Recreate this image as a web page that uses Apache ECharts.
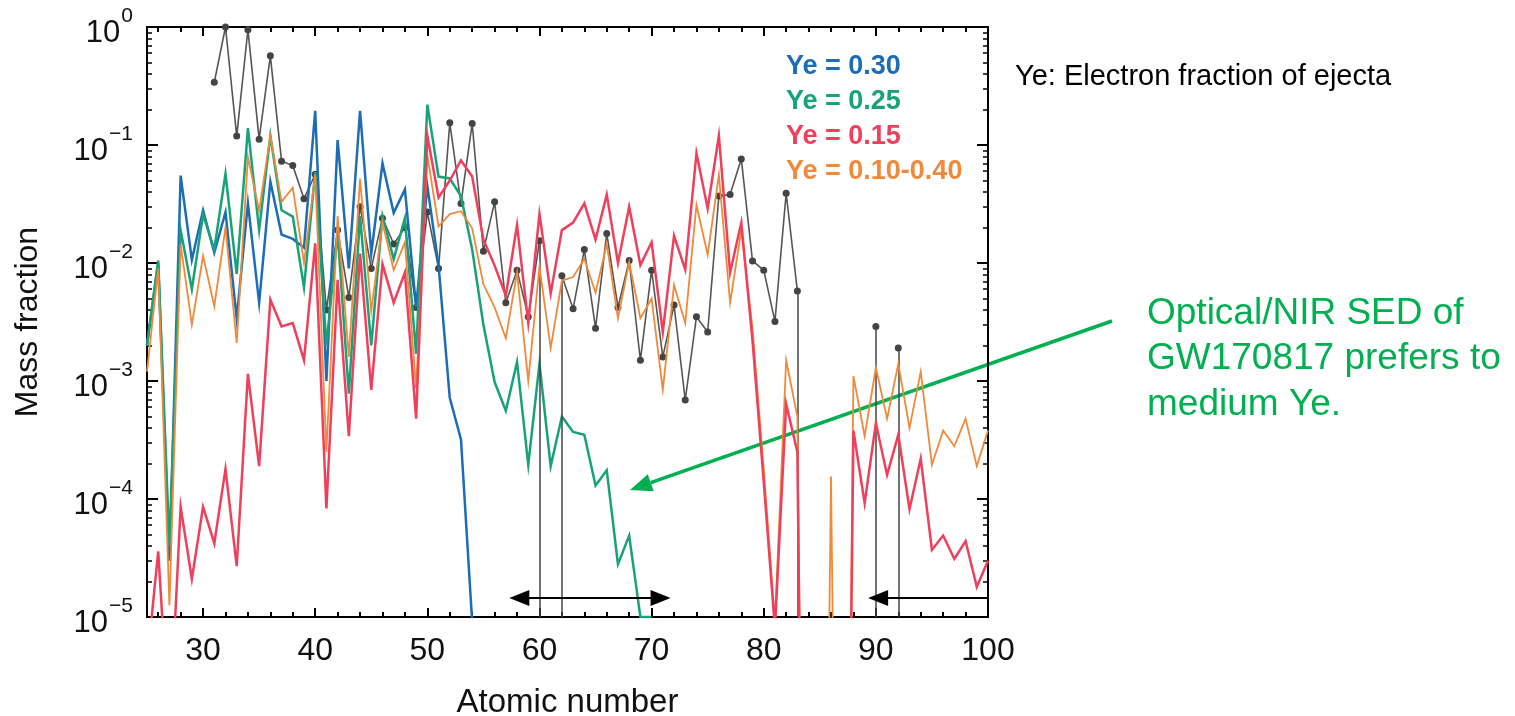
<!DOCTYPE html>
<html><head><meta charset="utf-8">
<script src="https://cdn.jsdelivr.net/npm/echarts@6/dist/echarts.min.js"></script>
<style>html,body{margin:0;padding:0;background:#fff}#c{width:1515px;height:716px}</style>
</head><body><div id="c"></div>
<script>
// ---------------- data ----------------
const atomicNumbers = [25,26,27,28,29,30,31,32,33,34,35,36,37,38,39,40,41,42,43,44,45,46,47,48,49,50,
  51,52,53,54,55,56,57,58,59,60,61,62,63,64,65,66,67,68,69,70,71,72,73,74,75,76,77,78,79,80,
  81,82,83,84,85,86,87,88,89,90,91,92,93,94,95,96,97,98,99,100];

const ye030 = [
  2e-3, 1.0e-2, 3e-5, 0.055, 0.0106, 0.028, 0.0122, 0.027, 0.0034, 0.032,
  0.0046, 0.049, 0.0174, 0.016, 0.0135, 0.195, 0.001, 0.11, 0.009, 0.195,
  0.012, 0.07, 0.0266, 0.042, 0.0042, 0.045, 0.0096, 7.2e-4, 3.2e-4, 9e-6,
  null,null,null,null,null,null,null,null,null,null,
  null,null,null,null,null,null,null,null,null,null,
  null,null,null,null,null,null,null,null,null,null,
  null,null,null,null,null,null,null,null,null,null,
  null,null,null,null,null,null];

const ye025 = [
  2e-3, 0.0105, 4e-5, 0.019, 0.006, 0.0257, 0.013, 0.057, 0.0081, 0.139,
  0.019, 0.12, 0.028, 0.0247, 0.0062, 0.059, 0.002, 0.018, 7.8e-4, 0.025,
  0.002, 0.025, 0.0108, 0.024, 0.0017, 0.22, 0.054, 0.052, 0.037, 0.013,
  0.003, 9.8e-4, 5.6e-4, 1.45e-3, 1.95e-4, 1.4e-3, 1.9e-4, 5e-4, 3.7e-4, 3.5e-4,
  1.3e-4, 1.75e-4, 2.8e-5, 4.9e-5, 1e-5, 1e-5, null, null, null, null,
  null,null,null,null,null,null,null,null,null,null,
  null,null,null,null,null,null,null,null,null,null,
  null,null,null,null,null,null];

const ye015 = [
  4e-6, 3.6e-5, 1e-6, 8.6e-5, 2.1e-5, 8.6e-5, 4.2e-5, 1.8e-4, 2.7e-5, 1.15e-3,
  1.9e-4, 4.9e-3, 2.9e-3, 3.1e-3, 1.5e-3, 0.0147, 8.3e-5, 0.0072, 3.4e-4, 0.012,
  8.4e-4, 0.0098, 0.0046, 0.0083, 4.8e-4, 0.12, 0.036, 0.05, 0.074, 0.054,
  0.0158, 0.0095, 0.0053, 0.021, 0.0031, 0.026, 0.0055, 0.019, 0.022, 0.032,
  0.0158, 0.038, 0.01, 0.03, 0.0096, 0.015, 0.0026, 0.017, 0.0088, 0.085,
  0.029, 0.12, 0.0083, 0.022, 0.0022, 1.4e-4, 8e-6, 6.4e-4, 2.5e-4, 1e-12,
  1e-12, 1e-12, 1e-12, 3.8e-4, 9.2e-5, 4.4e-4, 1.6e-4, 3.5e-4, 8.2e-5, 2.2e-4,
  3.7e-5, 4.9e-5, 3.1e-5, 4.4e-5, 1.8e-5, 3e-5];

const ye010to040 = [
  1.2e-3, 0.009, 1.26e-5, 0.0144, 0.003, 0.0115, 0.0043, 0.02, 0.0021, 0.079,
  0.0277, 0.12, 0.033, 0.0435, 0.01, 0.056, 2.5e-4, 0.025, 0.0016, 0.052,
  0.0039, 0.022, 0.0087, 0.015, 8.7e-4, 0.082, 0.0204, 0.026, 0.0275, 0.0197,
  0.0066, 0.0042, 0.0023, 0.0083, 0.001, 0.0093, 0.0019, 0.0071, 0.0076, 0.0108,
  0.0056, 0.0145, 0.0034, 0.0102, 0.0034, 0.005, 8.4e-4, 0.0065, 0.0031, 0.031,
  0.0117, 0.056, 0.0046, 0.019, 0.0028, 1.8e-4, 9e-6, 1.5e-3, 5e-4, 1e-12,
  1e-12, 1.55e-4, 1e-12, 1.1e-3, 3.4e-4, 1.3e-3, 4.8e-4, 1.4e-3, 4e-4, 1.2e-3,
  1.95e-4, 3.8e-4, 2.8e-4, 4.8e-4, 1.9e-4, 3.8e-4];

const solarR = [
  null, null, null, null, null, null, 0.34, 1.0, 0.119, 0.95,
  0.112, 0.57, 0.073, 0.067, 0.035, 0.0565, 0.004, 0.019, 0.0051, 0.03,
  0.009, 0.024, 0.0145, 0.02, 0.0042, 0.027, 0.009, 0.154, 0.032, 0.152,
  0.0126, 0.033, 0.0046, 0.0087, 0.0035, 0.0154, null, 0.0078, 0.0041, 0.013,
  0.0028, 0.0178, 0.0042, 0.0105, 0.0015, 0.0087, 0.0016, 0.0044, 6.9e-4, 0.0035,
  0.0026, 0.037, 0.038, 0.076, 0.0104, 0.0087, 0.0032, 0.039, 0.0058, null,
  null, null, null, null, null, 0.0029, null, 0.0019, null, null,
  null, null, null, null, null, null];

const dropLineZ = [60, 62, 83, 90, 92];           // solar points with gaps next to them
const rangeArrows = [[57.3, 71.7], [100, 89.3]];  // horizontal range arrows: Z of tail/tip ends
const arrowLevel = 1.45e-5;

const xTickLabels = [30, 40, 50, 60, 70, 80, 90, 100];
const yTickLabels = [1e-5, 1e-4, 1e-3, 1e-2, 1e-1, 1];

// ---------------- style ----------------
const FONT = '"Liberation Sans", Arial, Helvetica, sans-serif';
const BLUE = '#1d6cb6', GREEN = '#18a27a', RED = '#ef3f5b', ORANGE = '#f0893a', GRAY = '#555555';
const X_MIN = 25, X_MAX = 100, Y_MIN = 1e-5, Y_MAX = 1;
const HEAD_HALF_Z = 0.9;   // half arrow-head length expressed in Z units

const xMinor = [];
for (let z = 26; z < 100; z += 2) if (z % 10 !== 0) xMinor.push(z);
const yMinor = [];
for (let d = -5; d < 0; d++) for (let m = 2; m <= 9; m++) yMinor.push(+(m * Math.pow(10, d)).toPrecision(3));

function pairs(vals) { return atomicNumbers.map((z, i) => [z, vals[i] === null ? '-' : vals[i]]); }

function xAx(pos, ticks, len, withLabels) {
  const a = {
    type: 'value', position: pos, min: X_MIN, max: X_MAX,
    axisLine: { show: true, onZero: false, lineStyle: { color: '#000', width: 2 } },
    axisTick: { show: true, inside: true, length: len, customValues: ticks, lineStyle: { color: '#000', width: 2 } },
    axisLabel: { show: false },
    splitLine: { show: false }
  };
  if (withLabels) {
    a.axisLabel = { show: true, customValues: xTickLabels, fontSize: 32, color: '#111', fontFamily: FONT, margin: 18 };
    a.name = 'Atomic number';
    a.nameLocation = 'middle';
    a.nameGap = 69;
    a.nameTextStyle = { fontSize: 33, color: '#111', fontFamily: FONT };
  }
  return a;
}
function yAx(pos, ticks, len, withLabels) {
  const a = {
    type: 'log', logBase: 10, position: pos, min: Y_MIN, max: Y_MAX,
    axisLine: { show: true, onZero: false, lineStyle: { color: '#000', width: 2 } },
    axisTick: { show: true, inside: true, length: len, customValues: ticks, lineStyle: { color: '#000', width: len > 6 ? 2 : 1.5 } },
    axisLabel: { show: false },
    splitLine: { show: false }, minorTick: { show: false }
  };
  if (withLabels) {
    a.axisLabel = {
      show: true, customValues: yTickLabels, margin: 14, fontFamily: FONT, padding: [12, 0, 0, 0],
      formatter: v => {
        const e = Math.round(Math.log10(v));
        return '{b|10}{s|' + (e < 0 ? '\u2212' + (-e) : e) + '}';
      },
      rich: {
        b: { fontSize: 31, color: '#111', fontFamily: FONT, lineHeight: 31, verticalAlign: 'bottom' },
        s: { fontSize: 21, color: '#111', fontFamily: FONT, lineHeight: 21, verticalAlign: 'bottom', padding: [0, 0, 22, 1] }
      }
    };
    a.name = 'Mass fraction';
    a.nameLocation = 'middle';
    a.nameGap = 103;
    a.nameRotate = 90;
    a.nameTextStyle = { fontSize: 32, color: '#111', fontFamily: FONT };
  }
  return a;
}

function lineSeries(name, vals, color, width, z) {
  return {
    name, type: 'line', data: pairs(vals), xAxisIndex: 0, yAxisIndex: 0,
    showSymbol: false, symbol: 'none', connectNulls: false, clip: true, z,
    lineStyle: { color, width, join: 'miter' }, itemStyle: { color },
    emphasis: { disabled: true }
  };
}

// mark lines built from the data arrays
const markData = [];
dropLineZ.forEach(z => {
  const v = solarR[atomicNumbers.indexOf(z)];
  markData.push([{ coord: [z, v], symbol: 'none' }, { coord: [z, Y_MIN], symbol: 'none' }]);
});
{
  const [a0, a1] = rangeArrows[0];
  const s = Math.sign(a1 - a0);
  markData.push([
    { coord: [a0 + s * HEAD_HALF_Z, arrowLevel], symbol: 'triangle', lineStyle: { color: '#000', width: 2 } },
    { coord: [a1 - s * HEAD_HALF_Z, arrowLevel], symbol: 'triangle' }]);
  const [b0, b1] = rangeArrows[1];
  const t = Math.sign(b1 - b0);
  markData.push([
    { coord: [b0, arrowLevel], symbol: 'none', lineStyle: { color: '#000', width: 2 } },
    { coord: [b1 - t * HEAD_HALF_Z, arrowLevel], symbol: 'triangle' }]);
}

const solarSeries = {
  name: 'Solar r-process', type: 'line', data: pairs(solarR), xAxisIndex: 0, yAxisIndex: 0,
  symbol: 'circle', symbolSize: 7, showAllSymbol: true, connectNulls: false, clip: true, z: 2,
  lineStyle: { color: GRAY, width: 1.6 }, itemStyle: { color: '#444' },
  emphasis: { disabled: true },
  markLine: {
    silent: true, animation: false, symbolSize: [16, 20],
    label: { show: false },
    lineStyle: { color: '#444', width: 1.5, type: 'solid' },
    itemStyle: { color: '#000' },
    emphasis: { disabled: true },
    data: markData
  }
};

// green annotation arrow (pixel layout)
const aTail = [1112, 321], aTip = [630, 490];
const dx = aTip[0] - aTail[0], dy = aTip[1] - aTail[1], L = Math.hypot(dx, dy);
const ux = dx / L, uy = dy / L, hl = 22, hw = 9;
const bx = aTip[0] - ux * hl, by = aTip[1] - uy * hl;

const option = {
  animation: false,
  backgroundColor: '#fff',
  grid: { left: 147, top: 27, width: 841, height: 590, containLabel: false, outerBoundsMode: 'none' },
  xAxis: [xAx('bottom', xTickLabels, 9, true), xAx('bottom', xMinor, 5, false),
          xAx('top', xTickLabels, 9, false), xAx('top', xMinor, 5, false)],
  yAxis: [yAx('left', yTickLabels, 11, true), yAx('left', yMinor, 5, false),
          yAx('right', yTickLabels, 11, false), yAx('right', yMinor, 5, false)],
  legend: {
    orient: 'vertical', left: 776, top: 44, itemWidth: 0, itemHeight: 0, itemGap: 0,
    selectedMode: false, icon: 'rect',
    textStyle: { fontSize: 27, fontWeight: 'bold', fontFamily: FONT, lineHeight: 35 },
    data: [
      { name: 'Ye = 0.30', textStyle: { color: BLUE } },
      { name: 'Ye = 0.25', textStyle: { color: GREEN } },
      { name: 'Ye = 0.15', textStyle: { color: RED } },
      { name: 'Ye = 0.10-0.40', textStyle: { color: ORANGE } }
    ]
  },
  series: [
    solarSeries,
    lineSeries('Ye = 0.30', ye030, BLUE, 2.5, 3),
    lineSeries('Ye = 0.25', ye025, GREEN, 2.5, 4),
    lineSeries('Ye = 0.10-0.40', ye010to040, ORANGE, 1.8, 5),
    lineSeries('Ye = 0.15', ye015, RED, 2.5, 6)
  ],
  graphic: [
    { type: 'text', left: 1015, top: 62, style: { text: 'Ye: Electron fraction of ejecta', font: '29px ' + FONT, fill: '#000' } },
    { type: 'text', left: 1147, top: 291, style: { text: 'Optical/NIR SED of\nGW170817 prefers to\nmedium Ye.', font: '37px ' + FONT, lineHeight: 45.5, fill: '#00b050' } },
    { type: 'line', shape: { x1: aTail[0], y1: aTail[1], x2: bx, y2: by }, style: { stroke: '#00b050', lineWidth: 3.5 } },
    { type: 'polygon', shape: { points: [aTip, [bx - uy * hw, by + ux * hw], [bx + uy * hw, by - ux * hw]] }, style: { fill: '#00b050' } }
  ]
};

const chart = echarts.init(document.getElementById('c'), null, { renderer: 'canvas' });
chart.setOption(option);
</script>
</body></html>
